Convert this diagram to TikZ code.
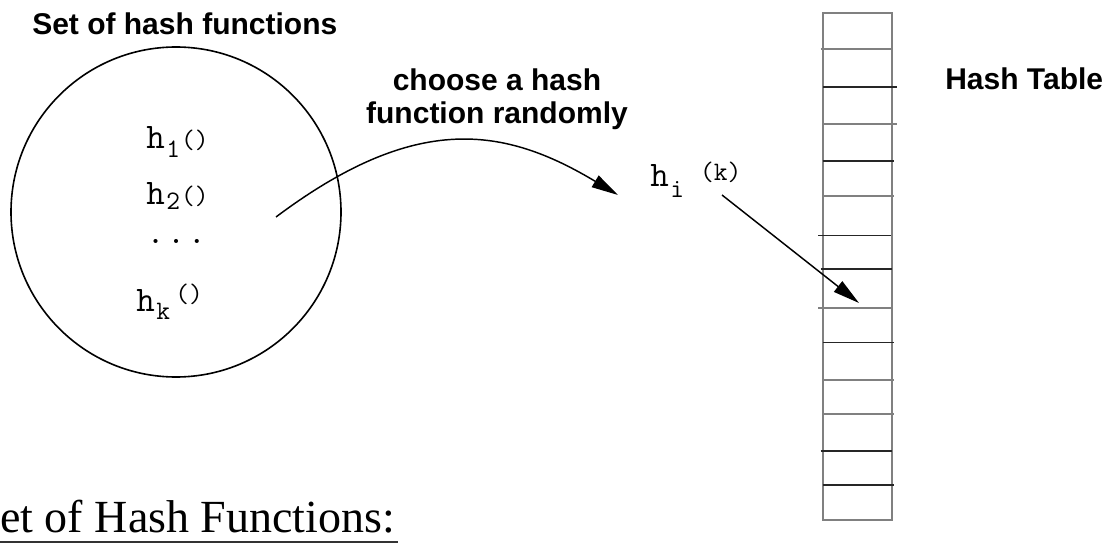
\documentclass[tikz,border=0pt]{standalone}
\usepackage{fontspec}
\setmainfont{Liberation Serif}
\newfontfamily\sansbf{Liberation Sans}[BoldFont={Liberation Sans Bold}]
\usetikzlibrary{arrows.meta}
\newcommand\hbig{\ttfamily\fontsize{27}{27}\selectfont}
\newcommand\hsml{\ttfamily\fontsize{20}{20}\selectfont}
\newcommand\lbl{\sansbf\bfseries\fontsize{22.5}{24.75}\selectfont}
\definecolor{tgray}{gray}{0.5}
\tikzset{
  lab/.style={inner sep=0pt, font=\lbl},
  hfun/.style={inner sep=0pt, anchor=base west},
  conn/.style={line width=1.1pt, -{Triangle[length=20pt,width=10pt]}},
  rowblack/.style={line width=1.2pt, black!85},
  rowgray/.style={line width=1.2pt, tgray},
}
\begin{document}
\begin{tikzpicture}[x=0.75pt,y=-0.75pt]
\useasboundingbox (0,0) rectangle (1117,545);

% titles
\node[lab, anchor=base west] (settitle) at (32,35) {Set of hash functions};
\node[lab, anchor=north, align=center] (choose) at (497,68.5) {choose a hash\\function randomly};
\node[lab, anchor=base west] (httitle) at (945,90) {Hash Table};

% set of hash functions
\node[draw, circle, line width=1.2pt, minimum size=247.5pt, inner sep=0pt] (fset) at (176,212) {};
\node[hfun] (h1) at (146,149) {\hbig h\kern1.2pt\hsml\raisebox{-6.75pt}{1}\kern0.8pt()};
\node[hfun] (h2) at (146,205) {\hbig h\kern1.2pt\hsml\raisebox{-3.75pt}{2}\kern0.8pt()};
\node[hfun] (hdots) at (146,244) {\hbig .\kern1.6pt.\kern1.6pt.};
\node[hfun] (hk) at (136,311) {\hbig h\kern1.2pt\hsml\raisebox{-6pt}{k}\kern4pt\raisebox{6.75pt}{()}};

% chosen function
\node[hfun] (hi) at (650,187) {\hbig h\kern1.2pt\hsml\raisebox{-8.25pt}{i}\kern12pt\raisebox{4.8pt}{(k)}};

% hash table
\node[draw=tgray, line width=1.5pt, minimum width=52.1pt, minimum height=380.25pt, inner sep=0pt] (table) at (857.25,266.5) {};
\foreach \yy/\xa/\xb/\st in {49.3/820.7/892/rowgray, 87.3/823/896.7/rowblack, 124/823/896.7/rowgray,
  161.3/822.7/894/rowblack, 196/822.7/894/rowgray, 235.7/818.3/890.7/rowblack,
  269.3/820.7/892/rowblack, 308.3/818.3/890.7/rowgray, 342.3/822.7/894/rowblack,
  380/822.7/894/rowgray, 413.7/822.7/894/rowgray, 451/820.7/892/rowblack, 485/822.7/894/rowblack}
  \draw[\st] (\xa,\yy) -- (\xb,\yy);

% bottom heading
\node[inner sep=0pt, anchor=base west, font=\fontsize{34.5}{36}\selectfont] (bottom) at (0,532) {et of Hash Functions:};
\draw[line width=1.5pt, black!80] (0,542) -- (398,542);

% connectors
\coordinate (cstart) at (276,217);
\coordinate (cend) at (618,195);
\draw[conn] (cstart) .. controls (416.3,111.8) and (504.4,126.8) .. (cend);
\coordinate (kstart) at (722,195);
\coordinate (kend) at (859,303);
\draw[conn] (kstart) -- (kend);
\end{tikzpicture}
\end{document}
